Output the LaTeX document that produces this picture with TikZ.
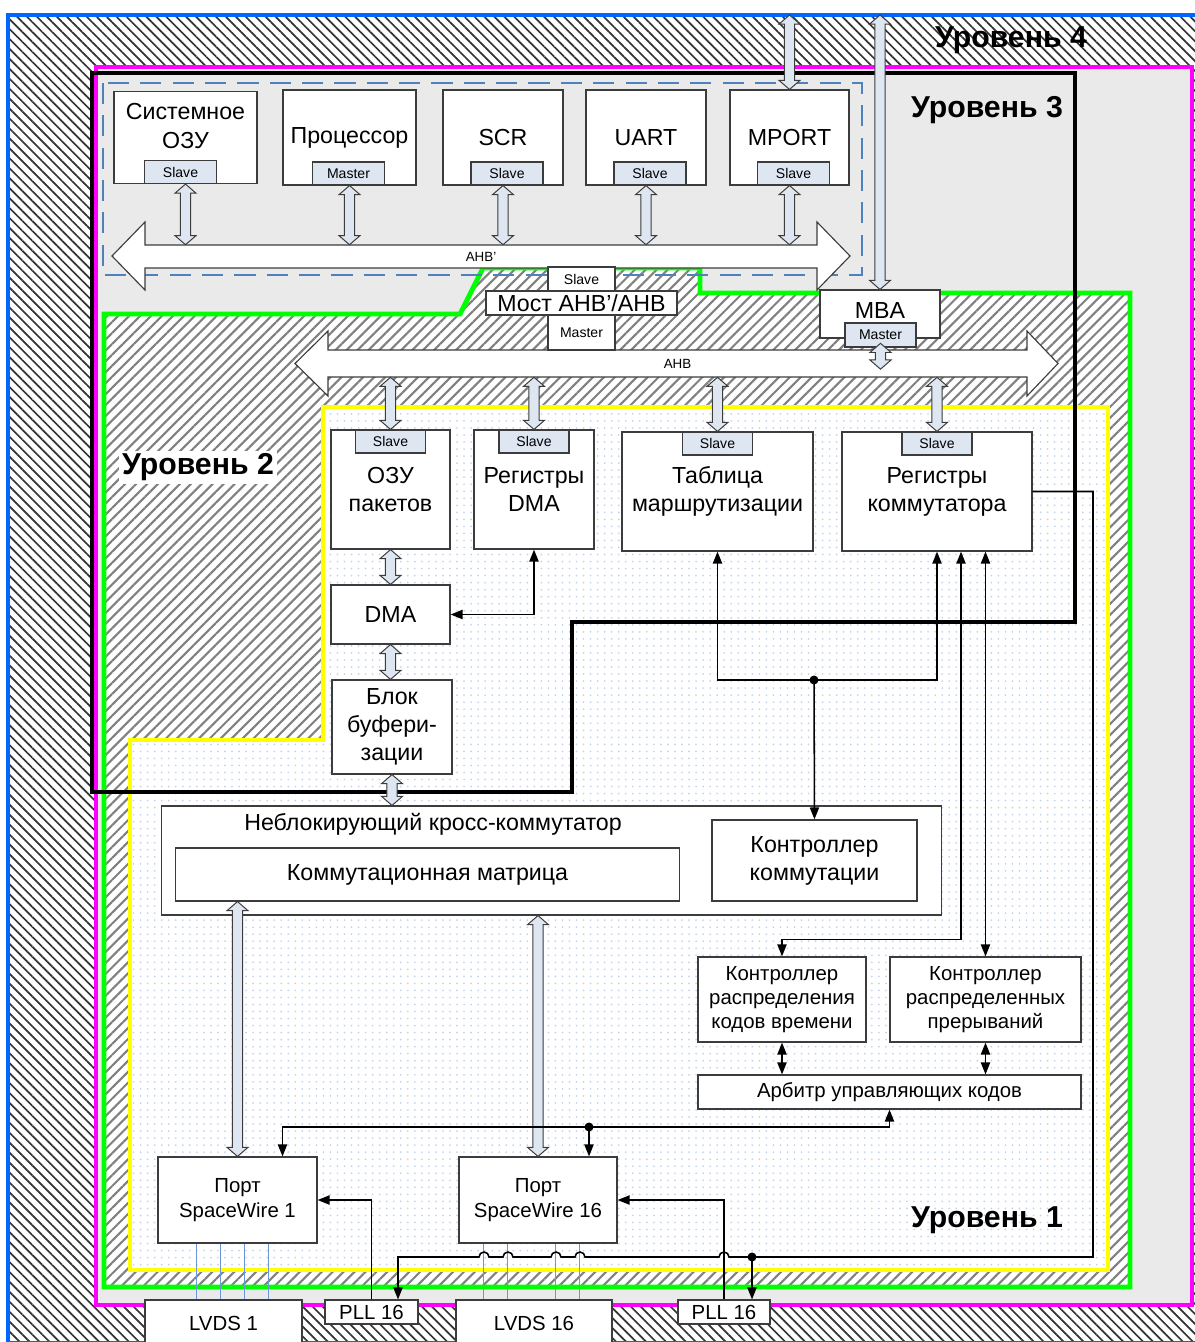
\documentclass[tikz,border=0pt]{standalone}
\usepackage{fontspec}
\setmainfont{Liberation Sans}
\usepackage{xcolor}
\usetikzlibrary{calc}
\usetikzlibrary{arrows.meta}
\usetikzlibrary{patterns.meta}

\definecolor{lvlblue}{RGB}{0,102,255}
\definecolor{lvlpink}{RGB}{255,0,255}
\definecolor{lvlgreen}{RGB}{0,255,0}
\definecolor{lvlyellow}{RGB}{255,255,0}
\definecolor{busdash}{RGB}{79,129,189}
\definecolor{lvlgrey}{RGB}{234,234,234}
\definecolor{dotblue}{RGB}{196,211,236}
\definecolor{tabfill}{RGB}{222,230,242}
\definecolor{edge}{RGB}{60,60,60}
\definecolor{lvdswire}{RGB}{110,150,215}

\newcommand\txtbig{\fontsize{16.5}{20}\selectfont}
\newcommand\txtmid{\fontsize{14.5}{17.3}\selectfont}
\newcommand\txttab{\fontsize{10}{12}\selectfont}
\newcommand\txtlvl{\fontsize{21.5}{26}\selectfont\bfseries}

% vertical block arrow between two points
\newcommand\fatarrow[2]{%
  \path[fat] let \p1=#1, \p2=#2 in
    (\x1,\y1) -- ({\x1+7.5pt},{\y1-6.5pt}) -- ({\x1+3.6pt},{\y1-6.5pt})
    -- ({\x1+3.6pt},{\y2+6.5pt}) -- ({\x1+7.5pt},{\y2+6.5pt}) -- (\x1,\y2)
    -- ({\x1-7.5pt},{\y2+6.5pt}) -- ({\x1-3.6pt},{\y2+6.5pt})
    -- ({\x1-3.6pt},{\y1-6.5pt}) -- ({\x1-7.5pt},{\y1-6.5pt}) -- cycle;}

\begin{document}
\begin{tikzpicture}[
    % 1 unit = 1 pixel of the layout
    x=0.025cm, y=-0.025cm,
    >={Triangle[length=8.5pt,width=6.5pt]},
    box/.style={draw=edge, fill=white, line width=0.8pt, inner sep=0pt, align=center, font=\txtbig},
    mbox/.style={box, font=\txtmid},
    tab/.style={draw=edge, fill=tabfill, line width=0.8pt, inner sep=0pt, minimum width=1.8cm, minimum height=0.575cm, font=\txttab},
    sbox/.style={draw=edge, fill=white, line width=0.8pt, inner sep=0pt, font=\txttab},
    lbl/.style={inner sep=0pt, align=center, font=\txtbig},
    lvllabel/.style={inner sep=2pt, font=\txtlvl},
    bus/.style={draw=edge, fill=white, line width=0.8pt, line join=miter},
    busname/.style={inner sep=0pt, font=\fontsize{9.5}{11}\selectfont},
    fat/.style={draw=edge, fill=tabfill, line width=0.7pt},
    sig/.style={draw=black, line width=1.1pt},
    wire/.style={draw=lvdswire, line width=0.7pt},
    hatchfour/.style={fill=white, postaction={pattern={Lines[angle=-45,distance=5pt,line width=1.2pt]}, pattern color=black!80}},
    hatchtwo/.style={fill=white, postaction={pattern={Lines[angle=45,distance=5.5pt,line width=1.5pt]}, pattern color=black!50}},
    dotsone/.style={fill=white, postaction={pattern={Dots[distance=5pt,radius=0.7pt]}, pattern color=dotblue}}
]
    \useasboundingbox (0,0) rectangle (1195,1342);
    \clip (0,0) rectangle (1195,1342);
    \coordinate (topedge) at (0,15);

    % Level 4
    \path[hatchfour] (8,15) rectangle (1199,1343);
    \draw[lvlblue, line width=3pt] (8,15) rectangle (1199,1343);

    % Level 3
    \draw[lvlpink, line width=3pt, fill=lvlgrey] (96,67) rectangle (1192,1305);

    % Level 2
    \path[hatchtwo] (104,314) -- (460,314) -- (483,268) -- (700,268) -- (700,293) -- (1130,293) -- (1130,1287) -- (104,1287) -- cycle;
    \draw[lvlgreen, line width=3.5pt] (104,314) -- (460,314) -- (483,268) -- (700,268) -- (700,293) -- (1130,293) -- (1130,1287) -- (104,1287) -- cycle;

    % Level 1
    \path[dotsone] (323,407) -- (1108,407) -- (1108,1270) -- (130,1270) -- (130,740) -- (323,740) -- cycle;
    \draw[lvlyellow, line width=3pt] (323,407) -- (1108,407) -- (1108,1270) -- (130,1270) -- (130,740) -- (323,740) -- cycle;

    % AHB' group and level 3 border
    \draw[busdash, line width=2pt, dash pattern=on 15pt off 8pt] (103,83) rectangle (862,275);
    \draw[line width=3.2pt] (92,73) -- (1075,73) -- (1075,622) -- (572,622) -- (572,792) -- (92,792) -- cycle;

    % Level names
    \node[lvllabel] (lvl4) at (1011,40) {Уровень 4};
    \node[lvllabel] (lvl3) at (987,110) {Уровень 3};
    \node[lvllabel, fill=white] (lvl2) at (198,467) {Уровень 2};
    \node[lvllabel] (lvl1) at (987,1220) {Уровень 1};

    % Buses
    \draw[bus] (112,256) -- (145,222) -- (145,245) -- (817,245) -- (817,222) -- (850,256) -- (817,290) -- (817,268) -- (145,268) -- (145,290) -- cycle;
    \node[busname, minimum width=16.8cm, minimum height=0.575cm] (ahbp) at (481,256.5) {AHB’};
    \draw[bus] (295,363.5) -- (328,331) -- (328,350) -- (1027,350) -- (1027,331) -- (1058,363.5) -- (1027,396) -- (1027,377) -- (328,377) -- (328,396) -- cycle;
    \node[busname, minimum width=17.475cm, minimum height=0.675cm] (ahb) at (677.5,363.5) {AHB};

    % Level 3 units
    \node[box, minimum width=3.575cm, minimum height=2.3cm] (sysram) at (185.5,137.5) {};
    \node[lbl] (sysram-txt) at (185.5,126) {Системное\\ОЗУ};
    \node[box, minimum width=3.325cm, minimum height=2.375cm] (cpu) at (349.5,137.5) {Процессор};
    \node[box, minimum width=3cm, minimum height=2.375cm] (scr) at (503,137.5) {SCR};
    \node[box, minimum width=3cm, minimum height=2.375cm] (uart) at (646,137.5) {UART};
    \node[box, minimum width=2.975cm, minimum height=2.375cm] (mport) at (789.5,137.5) {MPORT};
    \foreach \u/\t/\dx in {sysram/Slave/-5, cpu/Master/-1, scr/Slave/4, uart/Slave/4, mport/Slave/4} {
        \node[tab, anchor=south, xshift=\dx*0.025cm] (\u-tab) at (\u.south) {\t};
        \fatarrow{(\u.south)}{(\u.south |- ahbp.north)}
    }
    \fatarrow{(mport.north |- topedge)}{(mport.north)}

    % Bridge and MBA
    \node[sbox, minimum width=1.675cm, minimum height=0.6cm] (br-slave) at (581.5,279) {Slave};
    \node[sbox, font=\txtbig, minimum width=4.775cm, minimum height=0.6cm] (bridge) at (581.5,303) {Мост AHB’/AHB};
    \node[sbox, minimum width=1.675cm, minimum height=0.875cm] (br-master) at (581.5,332.5) {Master};
    \node[box, minimum width=3cm, minimum height=1.2cm, text height=12pt, text depth=6pt] (mba) at (880,314) {MBA};
    \node[tab, minimum width=1.775cm, minimum height=0.6cm] (mba-tab) at (880.5,335) {Master};
    \fatarrow{(mba.north |- topedge)}{(mba.north)}
    \fatarrow{([yshift=3pt]mba-tab.south)}{([yshift=-4pt]mba-tab.south |- ahb.center)}

    % Level 1 units on AHB
    \node[box, minimum width=2.975cm, minimum height=2.975cm] (pram) at (390.5,489.5) {ОЗУ\\пакетов};
    \node[box, minimum width=3cm, minimum height=2.975cm] (dmareg) at (534,489.5) {Регистры\\DMA};
    \node[box, minimum width=4.775cm, minimum height=2.975cm] (rtab) at (717.5,491.5) {Таблица\\маршрутизации};
    \node[box, minimum width=4.75cm, minimum height=2.975cm] (swreg) at (937,491.5) {Регистры\\коммутатора};
    \foreach \u in {pram,dmareg,rtab,swreg} {
        \node[tab, anchor=north, minimum width=1.75cm] (\u-tab) at (\u.north) {Slave};
        \fatarrow{(\u.north |- ahb.south)}{(\u.north)}
    }

    % DMA path
    \node[box, minimum width=2.975cm, minimum height=1.475cm] (dma) at (390.5,614.5) {DMA};
    \node[box, minimum width=3cm, minimum height=2.35cm] (buf) at (392,727) {Блок\\буфери-\\зации};
    \node[box, minimum width=19.475cm, minimum height=2.725cm] (xbar) at (551.5,860.5) {};
    \node[lbl] (xbar-txt) at (433,824) {Неблокирующий кросс-коммутатор};
    \node[box, minimum width=12.575cm, minimum height=1.325cm] (swmatrix) at (427.5,874.5) {Коммутационная матрица};
    \node[box, minimum width=5.125cm, minimum height=2.025cm] (swctl) at (814.5,860.5) {Контроллер\\коммутации};
    \fatarrow{(pram.south)}{(pram.south |- dma.north)}
    \fatarrow{(dma.south)}{(dma.south |- buf.north)}
    \fatarrow{(buf.south)}{(buf.south |- xbar.north)}

    % Control codes
    \node[mbox, minimum width=4.2cm, minimum height=2.125cm] (tcctl) at (782,999.5) {Контроллер\\распределения\\кодов времени};
    \node[mbox, minimum width=4.775cm, minimum height=2.125cm] (irqctl) at (985.5,999.5) {Контроллер\\распределенных\\прерываний};
    \node[mbox, minimum width=9.575cm, minimum height=0.85cm] (arb) at (889.5,1092) {Арбитр управляющих кодов};

    % Ports
    \node[mbox, minimum width=3.975cm, minimum height=2.15cm] (port1) at (237.5,1200) {Порт\\SpaceWire 1};
    \node[mbox, minimum width=3.95cm, minimum height=2.15cm] (port16) at (538,1200) {Порт\\SpaceWire 16};
    \fatarrow{(port1.north |- swmatrix.south)}{(port1.north)}
    \fatarrow{(port16.north |- xbar.south)}{(port16.north)}

    % LVDS lines
    \node[mbox, minimum width=3.925cm, minimum height=1.15cm] (lvds1) at (223.5,1323) {LVDS 1};
    \node[mbox, minimum width=3.9cm, minimum height=1.15cm] (lvds16) at (534,1323) {LVDS 16};
    \foreach \dx in {39,63,87,111}
        \draw[wire] ([xshift=\dx*0.025cm]port1.south west) -- ([xshift=\dx*0.025cm]port1.south west |- lvds1.north);
    \foreach \dx in {25,49,97,121}
        \draw[wire] ([xshift=\dx*0.025cm]port16.south west) -- ([xshift=\dx*0.025cm]port16.south west |- lvds16.north);
    \node[mbox, minimum width=2.325cm, minimum height=0.6cm] (pll1) at (371.5,1312) {PLL 16};
    \node[mbox, minimum width=2.3cm, minimum height=0.6cm] (pll16) at (724,1312) {PLL 16};

    % Signals
    \draw[sig,<->] (dmareg.south) |- (dma.east);
    \coordinate (jtab) at (814,680);
    \draw[sig,<->] (rtab.south) |- (jtab) -| (swreg.south);
    \draw[sig,->] (jtab) -- (swctl.north);
    \fill (jtab) circle (4.5);
    \draw[sig,<->] ([xshift=0.6cm]swreg.south) |- ([yshift=0.425cm]tcctl.north) -- (tcctl.north);
    \draw[sig,<->] (irqctl.north |- swreg.south) -- (irqctl.north);
    \draw[sig,<->] (tcctl.south) -- (tcctl.south |- arb.north);
    \draw[sig,<->] (irqctl.south) -- (irqctl.south |- arb.north);
    \coordinate (jport) at (589,1127);
    \draw[sig,<->] (arb.south) |- (jport) -| ([xshift=1.125cm]port1.north);
    \draw[sig,->] (jport) -- (jport |- port16.north);
    \fill (jport) circle (4.5);
    \draw[sig,->] (pll1.north) |- (port1.east);
    \draw[sig,->] (pll16.north) |- (port16.east);

    % PLL control, hops over crossing lines
    \coordinate (rturn) at (1093,1257);
    \coordinate (jpll) at (752,1257);
    \draw[sig,->] (swreg.east) -| (rturn) -- (729,1257)
        arc[start angle=0, end angle=180, radius=0.125cm] -- (585,1257)
        arc[start angle=0, end angle=180, radius=0.125cm] -- (561,1257)
        arc[start angle=0, end angle=180, radius=0.125cm] -- (513,1257)
        arc[start angle=0, end angle=180, radius=0.125cm] -- (489,1257)
        arc[start angle=0, end angle=180, radius=0.125cm] -- (398,1257)
        -- ([xshift=0.6625cm]pll1.north);
    \draw[sig,->] (jpll) -- (jpll |- pll16.north);
    \fill (jpll) circle (4.5);
\end{tikzpicture}
\end{document}
